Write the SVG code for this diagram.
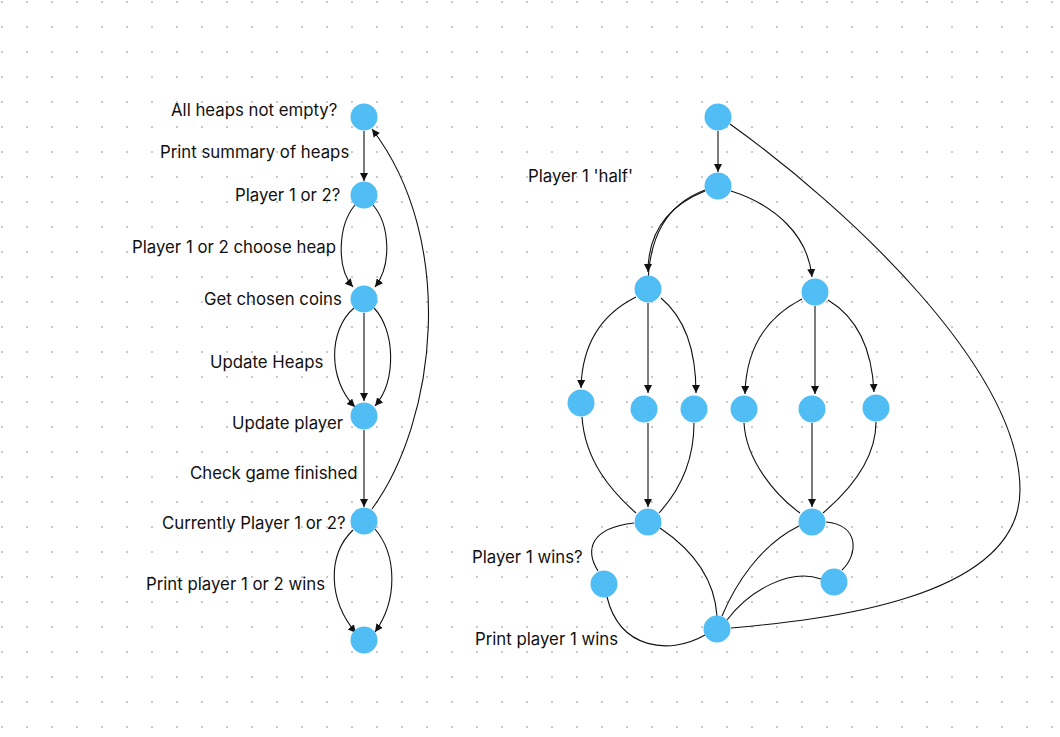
<svg xmlns="http://www.w3.org/2000/svg" width="1060" height="737" viewBox="0 0 1060 737">
<defs>
<pattern id="dots" width="25" height="25" patternUnits="userSpaceOnUse">
<rect x="1" y="1" width="2" height="2" fill="#c9c9c9"/>
</pattern>
<marker id="arr" viewBox="0 0 10 10" refX="10" refY="5" markerWidth="8" markerHeight="8" markerUnits="userSpaceOnUse" orient="auto">
<path d="M0,0 L10,5 L0,10 z" fill="#111"/>
</marker>
<style>
.n{fill:#51BDF5}
.e{fill:none;stroke:#111;stroke-width:1.1}
.a{marker-end:url(#arr)}
.t{font-family:Inter,"Liberation Sans",sans-serif;font-size:16.8px;fill:#111}
</style>
</defs>
<rect width="1060" height="737" fill="#fff"/>
<rect width="1060" height="737" fill="url(#dots)"/>
<g id="connectors">
<path class="e a" d="M364,131 L364,181"/>
<path class="e a" d="M355,205 C338,225 336,268 353,287"/>
<path class="e a" d="M373,205 C390,225 392,265 375,287"/>
<path class="e a" d="M364,313 L364,401"/>
<path class="e a" d="M354,308 C328,330 328,380 355,407"/>
<path class="e a" d="M374,308 C395,330 397,380 375,406"/>
<path class="e a" d="M364,430 L364,507"/>
<path class="e a" d="M353,530 C327,555 328,600 356,633"/>
<path class="e a" d="M375,529 C397,555 398,600 375,632"/>
<path class="e a" d="M372,509 C437,420 457,240 372,129"/>
<path class="e a" d="M718,131 L718,172"/>
<path class="e a" d="M705,191 C670,205 648,230 648,272"/>
<path class="e a" d="M705,190 C668,204 647,235 648,293"/>
<path class="e a" d="M731,191 C775,205 808,235 812,277"/>
<path class="e a" d="M636,297 C600,315 582,345 581,388"/>
<path class="e a" d="M648,303 L648,393"/>
<path class="e a" d="M661,298 C685,318 696,350 696,393"/>
<path class="e a" d="M802,299 C765,318 746,350 745,394"/>
<path class="e a" d="M815,306 L815,394"/>
<path class="e a" d="M828,300 C858,318 872,350 874,392"/>
<path class="e" d="M582,417 C585,460 610,490 636,513"/>
<path class="e a" d="M648,423 L648,507"/>
<path class="e" d="M694,423 C694,460 680,490 659,513"/>
<path class="e" d="M744,423 C746,460 775,495 800,513"/>
<path class="e a" d="M812,423 L812,507"/>
<path class="e" d="M876,422 C876,460 850,490 823,513"/>
<path class="e" d="M634,523 C590,528 585,550 598,571"/>
<path class="e" d="M607,597 C620,650 670,655 705,635"/>
<path class="e" d="M660,528 C700,555 715,585 717,616"/>
<path class="e" d="M799,526 C760,545 735,585 722,616"/>
<path class="e" d="M826,522 C860,525 858,555 842,570"/>
<path class="e" d="M821,579 C790,568 750,590 727,620"/>
<path class="e" d="M730,124 C850,210 1020,370 1020,490 C1020,600 820,620 731,628"/>
</g>
<g id="labels">
<text class="t" x="171" y="116">All heaps not empty?</text>
<text class="t" x="160" y="158">Print summary of heaps</text>
<text class="t" x="235" y="201">Player 1 or 2?</text>
<text class="t" x="132" y="253">Player 1 or 2 choose heap</text>
<text class="t" x="204" y="305">Get chosen coins</text>
<text class="t" x="210" y="368">Update Heaps</text>
<text class="t" x="232" y="429">Update player</text>
<text class="t" x="190" y="479">Check game finished</text>
<text class="t" x="162" y="529">Currently Player 1 or 2?</text>
<text class="t" x="146" y="590">Print player 1 or 2 wins</text>
<text class="t" x="528" y="182">Player 1 'half'</text>
<text class="t" x="472" y="563">Player 1 wins?</text>
<text class="t" x="475" y="645">Print player 1 wins</text>
</g>
<g id="node-a"><circle class="n" cx="364" cy="117" r="13.5"/></g>
<g id="node-b"><circle class="n" cx="364" cy="195" r="13.5"/></g>
<g id="node-c"><circle class="n" cx="364" cy="299" r="13.5"/></g>
<g id="node-d"><circle class="n" cx="364" cy="416" r="13.5"/></g>
<g id="node-e"><circle class="n" cx="364" cy="521" r="13.5"/></g>
<g id="node-f"><circle class="n" cx="364" cy="640" r="13.5"/></g>
<g id="node-t"><circle class="n" cx="718" cy="117" r="13.5"/></g>
<g id="node-h"><circle class="n" cx="718" cy="186" r="13.5"/></g>
<g id="node-l1"><circle class="n" cx="648" cy="289" r="13.5"/></g>
<g id="node-r1"><circle class="n" cx="815" cy="292" r="13.5"/></g>
<g id="node-la"><circle class="n" cx="581" cy="403" r="13.5"/></g>
<g id="node-lb"><circle class="n" cx="644" cy="409" r="13.5"/></g>
<g id="node-lc"><circle class="n" cx="694" cy="409" r="13.5"/></g>
<g id="node-ra"><circle class="n" cx="744" cy="409" r="13.5"/></g>
<g id="node-rb"><circle class="n" cx="812" cy="409" r="13.5"/></g>
<g id="node-rc"><circle class="n" cx="876" cy="408" r="13.5"/></g>
<g id="node-m1"><circle class="n" cx="648" cy="522" r="13.5"/></g>
<g id="node-m2"><circle class="n" cx="812" cy="522" r="13.5"/></g>
<g id="node-s1"><circle class="n" cx="604" cy="584" r="13.5"/></g>
<g id="node-s2"><circle class="n" cx="834" cy="582" r="13.5"/></g>
<g id="node-bot"><circle class="n" cx="717" cy="629" r="13.5"/></g>
</svg>
